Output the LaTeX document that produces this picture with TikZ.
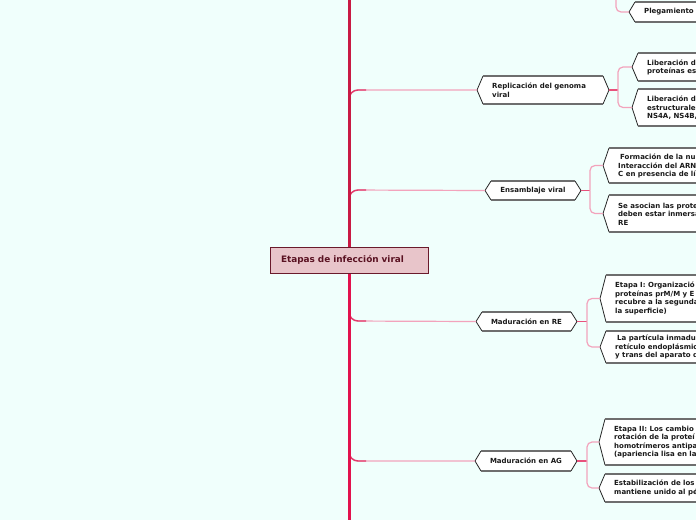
\documentclass[tikz,border=0pt]{standalone}
\usepackage{fontspec}
\setmainfont{DejaVu Sans}
\definecolor{bg}{HTML}{F0FFFC}
\definecolor{spineA}{HTML}{C91A44}
\definecolor{spineB}{HTML}{E2124D}
\definecolor{brlight}{HTML}{F3A3BC}
\definecolor{brdark}{HTML}{E23A6A}
\definecolor{stubc}{HTML}{E8517C}
\definecolor{rootfill}{HTML}{E8C5CA}
\definecolor{rootdraw}{HTML}{6A1A2B}
\definecolor{roottext}{HTML}{5A1222}
\definecolor{edgegray}{HTML}{6E6E6E}
\tikzset{
  side/.style={draw=black!85, line width=0.8pt, line join=miter},
  edgeline/.style={draw=edgegray, line width=1.8pt},
  txt/.style={font=\fontsize{7}{8.5}\selectfont\bfseries, text=black!90, align=left, inner sep=0pt, anchor=west},
  ctxt/.style={font=\fontsize{7}{8.5}\selectfont\bfseries, text=black!90, align=center, inner sep=0pt},
  branch/.style={draw=brlight, line width=1.2pt, rounded corners=9pt},
  branchc/.style={draw=brdark, line width=1.4pt, rounded corners=9pt},
  stub/.style={draw=stubc, line width=1.6pt},
  conn/.style={draw=brlight, line width=1.2pt, rounded corners=5pt},
  rootbox/.style={fill=rootfill, draw=rootdraw, line width=1pt, text=roottext,
     font=\fontsize{8.9}{10}\selectfont\bfseries, minimum width=158pt, minimum height=26pt,
     text width=136pt, inner xsep=11pt, inner ysep=0pt, align=left}
}
\newcommand\hexshape[5]{%
  \coordinate (#1-w) at (#2,{(#4+#5)/2});
  \coordinate (#1-e) at (#3,{(#4+#5)/2});
  \fill[white] (#1-w) -- (#2+6,#4) -- (#3-6,#4) -- (#1-e) -- (#3-6,#5) -- (#2+6,#5) -- cycle;
  \draw[side] (#2+6,#4) -- (#1-w) -- (#2+6,#5);
  \draw[side] (#3-6,#4) -- (#1-e) -- (#3-6,#5);
  \draw[edgeline] (#2+6,#4) -- (#3-6,#4);
  \draw[edgeline] (#2+6,#5) -- (#3-6,#5);
}
\begin{document}
\begin{tikzpicture}[x=1pt,y=-1pt]
\useasboundingbox (0,0) rectangle (696,520);
\fill[bg] (0,0) rectangle (696,520);
\clip (0,0) rectangle (696,520);

% root and spine
\node[rootbox] (root) at (349,260) {Etapas de infección viral};
\coordinate (spt) at (349,0);
\coordinate (spb) at (349,520);

% main nodes
\hexshape{rep}{477}{609}{76}{104}
\node[txt] (rept) at (492,90) {Replicación del genoma\\viral};
\hexshape{ens}{485}{581}{181}{200}
\node[ctxt] (enst) at (533,190.5) {Ensamblaje viral};
\hexshape{mre}{476}{577}{312}{331}
\node[ctxt] (mret) at (526.5,321.5) {Maduración en RE};
\hexshape{mag}{475}{577}{451}{471}
\node[ctxt] (magt) at (526,461) {Maduración en AG};

% branches
\draw[branch] (349,102) -- (349,90) -- (rep-w);
\draw[branchc] (349,102) -- (349,90) -- (366,90);
\draw[branch] (349,202) -- (349,190) -- (ens-w);
\draw[branchc] (349,202) -- (349,190) -- (366,190);
\draw[branch] (349,309) -- (349,321) -- (mre-w);
\draw[branchc] (349,309) -- (349,321) -- (366,321);
\draw[branch] (349,449) -- (349,461) -- (mag-w);
\draw[branchc] (349,449) -- (349,461) -- (366,461);

\draw[spineA, line width=3pt] (spt) -- (root.north);
\draw[spineB, line width=3pt] (root.south) -- (spb);
\node[rootbox] at (root) {Etapas de infección viral};

% children
\hexshape{pleg}{629}{760}{2}{22}
\node[txt] (plegt) at (644,12) {Plegamiento};
\hexshape{rc1}{632}{760}{53}{81}
\node[txt] (rc1t) at (647,67.5) {Liberación de\\proteínas est};
\hexshape{rc2}{632}{760}{89}{126}
\node[txt] (rc2t) at (647,108) {Liberación de\\estructurales\\NS4A, NS4B,};
\hexshape{ec1}{603}{760}{148}{183}
\node[txt] (ec1t) at (618,166) {\hspace{2pt}Formación de la nu\\Interacción del ARN\\C en presencia de lí};
\hexshape{ec2}{603}{760}{195}{232}
\node[txt] (ec2t) at (618,214) {Se asocian las prote\\deben estar inmersa\\RE};
\hexshape{mc1}{600}{760}{275}{322}
\node[txt] (mc1t) at (615,298.5) {Etapa I: Organizació\\proteínas prM/M y E\\recubre a la segunda\\la superficie)};
\hexshape{mc2}{600}{760}{331}{363}
\node[txt] (mc2t) at (615,347) {\hspace{2pt}La partícula inmadur\\retículo endoplásmic\\y trans del aparato d};
\hexshape{ac1}{599}{760}{419}{465}
\node[txt] (ac1t) at (614,442) {Etapa II: Los cambio\\rotación de la proteí\\homotrímeros antipa\\(apariencia lisa en la};
\hexshape{ac2}{599}{760}{474}{502}
\node[txt] (ac2t) at (614,488) {Estabilización de los\\mantiene unido al pé};

% connectors to children
\coordinate (pt) at (616,-2);
\draw[conn] (pt) |- (pleg-w);
\draw[stub] (rep-e) -- ++(9,0) coordinate (repj);
\draw[conn] (repj) |- (rc1-w);
\draw[conn] (repj) |- (rc2-w);
\draw[stub] (ens-e) -- ++(9,0) coordinate (ensj);
\draw[conn] (ensj) |- (ec1-w);
\draw[conn] (ensj) |- (ec2-w);
\draw[stub] (mre-e) -- ++(10,0) coordinate (mrej);
\draw[conn] (mrej) |- (mc1-w);
\draw[conn] (mrej) |- (mc2-w);
\draw[stub] (mag-e) -- ++(10,0) coordinate (magj);
\draw[conn] (magj) |- (ac1-w);
\draw[conn] (magj) |- (ac2-w);
\end{tikzpicture}
\end{document}
